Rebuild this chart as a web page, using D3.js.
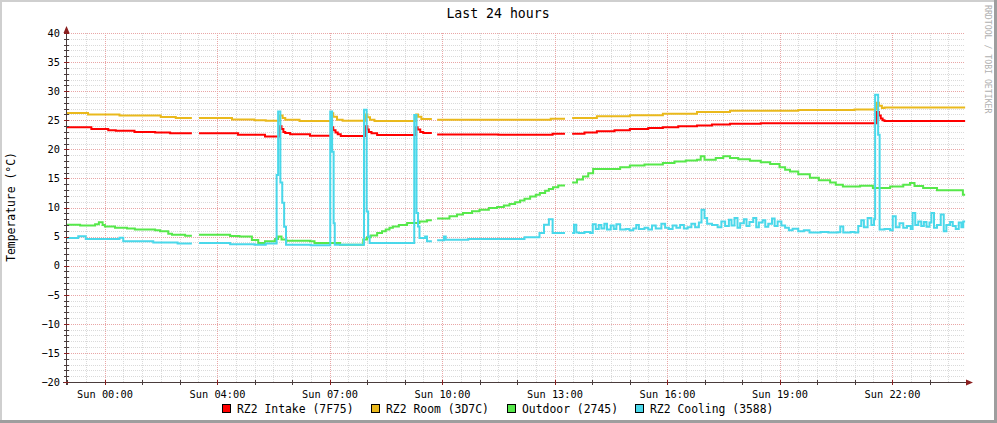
<!DOCTYPE html>
<html><head><meta charset="utf-8">
<script src="https://cdn.jsdelivr.net/npm/d3@7/dist/d3.min.js"></script>
<style>
html,body{margin:0;padding:0;background:#fff;}
svg{display:block;}
text{font-family:"DejaVu Sans Mono",monospace;}
</style></head><body>
<svg id="c" width="997" height="423"></svg>
<script>
// ---------- data ----------
const titleText = "Last 24 hours";
const yAxisLabel = "Temperature (°C)";
const watermarkText = "RRDTOOL / TOBI OETIKER";
const yTickValues = [-20, -15, -10, -5, 0, 5, 10, 15, 20, 25, 30, 35, 40];
const xTickHours = [1, 4, 7, 10, 13, 16, 19, 22];
const xTickLabels = ["Sun 00:00", "Sun 04:00", "Sun 07:00", "Sun 10:00", "Sun 13:00", "Sun 16:00", "Sun 19:00", "Sun 22:00"];
const seriesNames = ["RZ2 Intake (7F75)", "RZ2 Room (3D7C)", "Outdoor (2745)", "RZ2 Cooling (3588)"];

// [hours since window start, °C]; null = no data
const intake = [[0,23.8],[0.65,23.5],[1.1,23.3],[1.3,23.2],[1.8,23.0],[2.35,22.9],[2.75,22.75],[3.33,null],
 [3.52,22.75],[4.56,22.5],[5.28,22.2],[5.68,23.95],[5.72,23.5],[5.77,23.0],[5.82,22.8],[5.95,22.6],[6.48,22.35],
 [7.06,23.8],[7.1,23.3],[7.16,22.9],[7.22,22.6],[7.3,22.3],[7.97,23.95],[8.01,23.4],[8.05,23.0],[8.12,22.75],[8.27,22.45],
 [9.31,23.8],[9.35,23.4],[9.42,23.0],[9.5,22.8],[9.73,null],[9.87,22.55],[11.5,22.5],[12.95,22.7],[13.28,null],
 [13.47,22.7],[13.8,22.9],[14.13,23.1],[14.6,23.3],[15.01,23.5],[15.5,23.65],[15.89,23.8],[16.3,23.95],[16.8,24.1],
 [17.2,24.25],[17.68,24.4],[18.5,24.5],[21.6,26.4],[21.65,25.8],[21.7,25.3],[21.75,25.0],[21.8,24.85],[23.95,24.85]];
const room = [[0,26.25],[0.56,26.0],[1.4,25.8],[2.5,25.55],[2.9,25.4],[3.33,null],[3.52,25.4],[4.4,25.15],[5.0,25.0],
 [5.3,24.9],[5.68,25.8],[5.75,25.4],[5.82,25.1],[6.2,24.85],[7.06,26.2],[7.1,25.6],[7.2,25.1],[7.35,24.9],
 [7.97,26.0],[8.01,25.5],[8.08,25.1],[8.2,24.85],[9.31,26.0],[9.36,25.6],[9.45,25.2],[9.73,null],[9.87,25.1],
 [12.6,25.1],[12.9,25.25],[13.28,null],[13.47,25.4],[14.13,25.7],[15.01,25.85],[15.89,26.1],[16.8,26.4],
 [17.68,26.65],[19.5,26.75],[21.0,26.85],[21.6,28.0],[21.65,27.5],[21.73,27.1],[21.8,27.2],[23.95,27.2]];
const outdoor = [[0,7.05],[0.35,6.9],[0.75,7.1],[0.85,7.45],[0.95,7.0],[1.01,6.75],[1.28,6.5],[1.6,6.4],[1.81,6.2],
 [2.35,6.1],[2.48,5.9],[2.7,5.5],[2.8,5.3],[3.15,5.15],[3.33,null],[3.52,5.3],[4.35,5.1],[4.6,5.0],[4.93,4.4],
 [5.1,3.9],[5.28,4.2],[5.55,4.6],[5.63,5.0],[5.72,4.5],[5.85,4.3],[6.48,4.2],[6.6,3.9],[7.28,3.6],[7.75,3.6],
 [7.9,4.5],[8.0,4.9],[8.1,5.2],[8.27,5.6],[8.4,5.9],[8.5,6.2],[8.6,6.5],[8.69,6.75],[8.85,7.0],[9.07,7.35],
 [9.4,7.6],[9.6,7.8],[9.73,null],[9.87,8.1],[10.2,8.5],[10.4,8.8],[10.56,9.05],[10.8,9.35],[11.0,9.6],[11.25,9.9],
 [11.47,10.1],[11.65,10.35],[11.8,10.6],[11.95,10.9],[12.08,11.2],[12.2,11.5],[12.35,11.9],[12.5,12.2],
 [12.61,12.5],[12.75,12.9],[12.85,13.2],[12.96,13.5],[13.1,13.8],[13.28,null],[13.47,14.3],[13.6,14.8],
 [13.76,15.35],[13.9,15.9],[14.03,16.6],[14.48,16.6],[14.75,16.9],[15.01,17.2],[15.4,17.4],[15.89,17.65],
 [16.2,17.9],[16.5,18.1],[16.8,18.2],[16.9,18.8],[17.0,18.2],[17.3,18.5],[17.5,18.8],[17.68,18.5],[17.9,18.3],
 [18.21,18.05],[18.5,17.8],[18.75,17.5],[19.0,16.9],[19.15,16.5],[19.28,16.2],[19.5,15.7],[19.81,15.1],
 [20.05,14.7],[20.35,14.3],[20.5,13.9],[20.69,13.6],[21.15,13.75],[21.49,13.35],[21.95,13.6],[22.3,13.9],
 [22.48,14.2],[22.6,13.7],[22.83,13.35],[23.2,12.95],[23.73,12.95],[23.89,12.2],[23.95,12.2]];
const cooling = [[0,4.75],[0.3,5.05],[0.5,4.6],[1.4,4.8],[1.5,4.2],[2.3,4.0],[2.95,3.8],[3.33,null],[3.52,3.9],
 [4.35,3.7],[5.0,3.6],[5.3,3.8],[5.59,15.6],[5.63,26.5],[5.69,14.3],[5.74,10.8],[5.79,6.7],[5.84,3.6],[6.5,3.5],
 [7.02,26.5],[7.07,19.6],[7.11,7.3],[7.14,3.6],[7.92,26.8],[7.99,9.3],[8.03,5.0],[8.07,3.9],[9.26,25.9],[9.32,9.05],
 [9.36,6.75],[9.4,4.75],[9.55,5.0],[9.6,4.2],[9.73,null],[9.87,4.35],[10.05,5.0],[10.1,4.45],[10.7,4.6],
 [12.2,4.9],[12.6,5.6],[12.72,7.05],[12.85,8.0],[12.95,5.6],[13.28,null],
 [13.47,5.6],[13.52,7.05],[13.58,5.7],[13.65,5.6],[13.8,5.8],[13.95,5.6],[14.02,7.1],[14.1,6.3],[14.18,7.0],
 [14.25,6.4],[14.33,7.2],[14.4,6.2],[14.5,6.9],[14.58,6.3],[14.65,7.1],[14.75,6.2],[14.9,6.3],[15.0,6.1],
 [15.1,6.4],[15.18,7.0],[15.25,6.3],[15.4,6.5],[15.5,6.2],[15.6,6.9],[15.7,6.4],[15.85,7.2],[15.95,6.5],
 [16.05,6.3],[16.15,6.9],[16.25,6.5],[16.35,7.0],[16.45,6.4],[16.55,6.6],[16.65,7.2],[16.75,6.6],[16.85,7.4],
 [16.92,9.6],[17.0,8.2],[17.07,7.2],[17.2,7.0],[17.35,6.6],[17.45,7.6],[17.55,6.8],[17.65,7.9],[17.72,6.9],
 [17.8,8.2],[17.88,6.5],[17.95,7.3],[18.05,8.0],[18.12,6.8],[18.2,7.5],[18.3,8.2],[18.38,6.6],[18.45,7.4],
 [18.55,7.8],[18.62,6.7],[18.7,7.2],[18.8,8.1],[18.87,6.8],[18.95,7.6],[19.05,6.9],[19.15,6.5],[19.25,6.1],
 [19.35,6.35],[19.5,5.9],[19.65,6.1],[19.8,5.7],[20.1,5.8],[20.3,5.7],[20.55,5.75],[20.62,6.75],[20.7,5.7],
 [20.9,5.8],[21.0,5.7],[21.1,6.8],[21.18,7.8],[21.25,6.6],[21.35,8.2],[21.45,7.0],[21.52,8.0],
 [21.55,29.4],[21.63,22.5],[21.67,6.2],[21.8,6.3],[21.95,6.1],[22.02,8.5],[22.1,6.6],[22.2,7.3],[22.3,6.5],
 [22.4,6.8],[22.5,6.3],[22.55,9.05],[22.62,7.0],[22.7,7.6],[22.78,6.8],[22.85,7.5],[22.92,6.7],[23.0,7.4],
 [23.05,9.05],[23.12,6.5],[23.2,7.0],[23.3,8.8],[23.38,5.9],[23.45,7.0],[23.55,7.5],[23.62,6.8],[23.7,6.3],
 [23.78,7.4],[23.85,6.6],[23.9,7.6],[23.95,7.6]];

const seriesData = [intake, room, outdoor, cooling];
const seriesColors = ["#ff0000", "#eab91c", "#56e84a", "#4ad8ea"];

// ---------- layout ----------
const W = 997, H = 423;
const svg = d3.select("#c");
const x = d3.scaleLinear().domain([0, 24]).range([67, 967]);
const y = d3.scaleLinear().domain([-20, 40]).range([382, 33]);
const px = v => Math.round(v) + 0.5;

// frame
svg.append("rect").attr("width", W).attr("height", H).attr("fill", "#fff");
svg.append("rect").attr("x", 0).attr("y", 0).attr("width", W).attr("height", 2).attr("fill", "#cfcfcf");
svg.append("rect").attr("x", 0).attr("y", 0).attr("width", 2).attr("height", H).attr("fill", "#cfcfcf");
svg.append("rect").attr("x", 0).attr("y", H - 3).attr("width", W).attr("height", 3).attr("fill", "#9e9e9e");
svg.append("rect").attr("x", W - 3).attr("y", 0).attr("width", 3).attr("height", H).attr("fill", "#9e9e9e");

// grid
const g = svg.append("g");
const minorY = d3.range(-20, 41, 1).filter(v => v % 5 !== 0);
const majorY = d3.range(-20, 41, 5);
const minorX = d3.range(0.5, 24, 0.5).filter(h => (h - 1) % 3 !== 0);
const majorX = d3.range(1, 24, 3);
const xR = x.range()[1] - 2;
const minorCol = "#dadada", majorCol = "#e9a6a6";
g.selectAll(".my").data(minorY).join("line")
  .attr("x1", 67).attr("x2", xR).attr("y1", d => px(y(d))).attr("y2", d => px(y(d)))
  .attr("stroke", minorCol).attr("stroke-dasharray", "1,1");
g.selectAll(".mx").data(minorX).join("line")
  .attr("y1", 33).attr("y2", 382).attr("x1", d => px(x(d))).attr("x2", d => px(x(d)))
  .attr("stroke", minorCol).attr("stroke-dasharray", "1,1");
g.selectAll(".My").data(majorY).join("line")
  .attr("x1", 67).attr("x2", xR).attr("y1", d => px(y(d))).attr("y2", d => px(y(d)))
  .attr("stroke", majorCol).attr("stroke-dasharray", "1,1");
g.selectAll(".Mx").data(majorX).join("line")
  .attr("y1", 33).attr("y2", 382).attr("x1", d => px(x(d))).attr("x2", d => px(x(d)))
  .attr("stroke", majorCol).attr("stroke-dasharray", "1,1");

// series
function stepExpand(arr) {
  const out = [];
  for (let i = 0; i < arr.length; i++) {
    const [t, v] = arr[i];
    if (v === null) { out.push([t, null]); continue; }
    out.push([t, v]);
    if (i + 1 < arr.length) out.push([arr[i + 1][0], v]);
  }
  return out;
}
const line = d3.line().defined(d => d[1] !== null).x(d => x(d[0])).y(d => y(d[1]));
seriesData.forEach((s, i) => {
  svg.append("path").attr("d", line(stepExpand(s))).attr("fill", "none")
    .attr("stroke", seriesColors[i]).attr("stroke-width", 2).attr("stroke-linejoin", "miter");
});

// axes lines
const axisCol = "#4a3c3c", arrowCol = "#8b1f1f";
svg.append("line").attr("x1", 66.5).attr("x2", 66.5).attr("y1", 30).attr("y2", 385).attr("stroke", axisCol);
svg.append("line").attr("x1", 63).attr("x2", 968).attr("y1", 382.5).attr("y2", 382.5).attr("stroke", axisCol);
svg.append("path").attr("d", "M63.5,33 L66.5,26 L69.5,33 Z").attr("fill", arrowCol);
svg.append("path").attr("d", "M966,379.5 L973,382.5 L966,385.5 Z").attr("fill", arrowCol);

// tick marks
svg.selectAll(".xt").data(d3.range(0, 24, 1)).join("line")
  .attr("x1", d => px(x(d))).attr("x2", d => px(x(d))).attr("y1", 380).attr("y2", 385)
  .attr("stroke", d => (d - 1) % 3 === 0 ? arrowCol : axisCol);
svg.selectAll(".yt").data(d3.range(-20, 41, 1)).join("line")
  .attr("x1", 64).attr("x2", 69).attr("y1", d => px(y(d))).attr("y2", d => px(y(d)))
  .attr("stroke", d => d % 5 === 0 ? arrowCol : axisCol);

// axis labels via d3 axes
const ax = svg.append("g").attr("transform", "translate(0,382)")
  .call(d3.axisBottom(x).tickValues(xTickHours).tickSize(0).tickPadding(9)
    .tickFormat((d, i) => xTickLabels[i]));
const ay = svg.append("g").attr("transform", "translate(67,0)")
  .call(d3.axisLeft(y).tickValues(yTickValues).tickSize(0).tickPadding(7));
[ax, ay].forEach(a => {
  a.select(".domain").remove();
  a.selectAll("text").attr("font-family", "DejaVu Sans Mono").attr("font-size", 10.3).attr("fill", "#000");
});

// title
svg.append("text").attr("x", 498).attr("y", 18).attr("text-anchor", "middle")
  .attr("font-size", 13.2).attr("fill", "#000").text(titleText);
// y label
svg.append("text").attr("transform", "translate(15,207) rotate(-90)").attr("text-anchor", "middle")
  .attr("font-size", 11.4).attr("fill", "#000").text(yAxisLabel);
// watermark
svg.append("text").attr("transform", "translate(985,5) rotate(90)").attr("text-anchor", "start")
  .attr("font-size", 8.2).attr("fill", "#b0b0b0").text(watermarkText);

// legend
const legX = [222, 371, 507, 635];
seriesNames.forEach((n, i) => {
  svg.append("rect").attr("x", legX[i] + 0.5).attr("y", 404.5).attr("width", 8).attr("height", 8)
    .attr("fill", seriesColors[i]).attr("stroke", "#000");
  svg.append("text").attr("x", legX[i] + 15).attr("y", 412.5).attr("font-size", 11.4).attr("fill", "#000").text(n);
});
</script>
</body></html>
